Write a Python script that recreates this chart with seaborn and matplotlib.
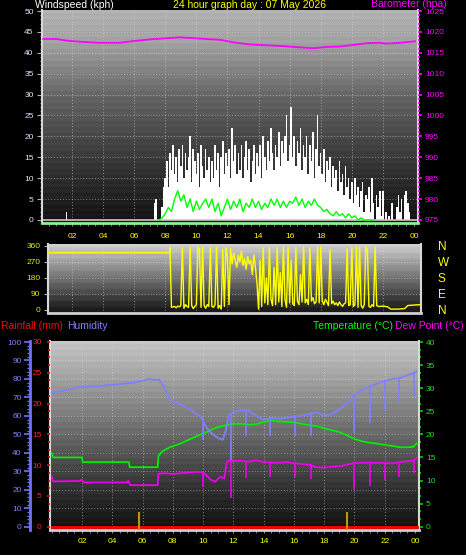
import numpy as np
import pandas as pd
import matplotlib
matplotlib.use("Agg")
import matplotlib.pyplot as plt
from matplotlib.ticker import MultipleLocator
import seaborn as sns

plt.rcParams['font.family'] = ['Liberation Sans', 'DejaVu Sans']

# ---------------- data ----------------
hour_ticks = [2, 4, 6, 8, 10, 12, 14, 16, 18, 20, 22, 24]
hour_labels = ['02', '04', '06', '08', '10', '12', '14', '16', '18', '20', '22', '00']

# wind gusts (kph), one sample every 0.1 h from 07.3 to 23.7, plus an early gust
gust_early_hours = [1.65]
gust_early_vals = [2]
gust_vals = [4, 5, 0, 0, 0, 3, 8,
             10, 14, 8, 16, 12, 18, 11, 15, 9, 17,
             13, 18, 10, 16, 12, 15, 20, 9, 17, 14,
             11, 16, 8, 18, 13, 10, 17, 12, 15, 9,
             14, 10, 18, 12, 16, 8, 15, 19, 11, 16,
             13, 17, 10, 22, 14, 18, 11, 16, 12, 18,
             10, 15, 19, 12, 17, 9, 14, 18, 11, 16,
             13, 18, 10, 20, 15, 12, 19, 14, 22, 16,
             12, 18, 15, 21, 13, 19, 16, 20, 25, 14,
             18, 27, 15, 20, 13, 19, 16, 22, 12, 18,
             15, 20, 11, 18, 14, 21, 10, 17, 25, 13,
             16, 11, 17, 9, 14, 12, 15, 8, 13, 10,
             12, 7, 14, 9, 11, 6, 13, 8, 10, 5,
             9, 4, 10, 6, 8, 3, 7, 9, 2, 6,
             5, 8, 2, 10, 4, 0, 6, 3, 7, 1,
             7, 0, 2, 0, 1, 0, 4, 0, 0, 3,
             6, 2, 5, 0, 6, 7, 4, 2]
gust_hours = list(np.round(np.linspace(7.3, 23.7, len(gust_vals)), 2))

# average wind speed (kph), one sample every 0.2 h from 07.6 to 21.4
avg_vals = [0, 0.5, 1.5, 3, 2, 5, 7, 4.5, 6, 3,
            5, 2, 4.5, 2.5, 4, 5, 3, 5, 2, 4,
            1, 3, 5, 2.5, 4.5, 3, 5, 2, 4, 3,
            5, 3, 4.5, 2.5, 4, 3, 5, 3.5, 5, 3,
            4.5, 3, 4.5, 4, 5.5, 3.5, 5, 3, 4.5, 3.5,
            5, 3.5, 3, 2, 2.5, 1.5, 1, 2, 1, 1.5,
            0.5, 1.5, 0.5, 1, 0, 0.5, 0, 0, 0, 0]
avg_hours = list(np.round(np.linspace(7.6, 21.4, len(avg_vals)), 2))

# barometer (hPa)
baro_hours = [0.15, 1.0, 1.66, 2.73, 3.8, 5.1, 5.3, 5.94, 7.0, 8.1, 8.95, 9.8, 10.67, 11.52,
              12.38, 13.45, 14.5, 15.6, 16.67, 17.5, 18.4, 19.24, 20.1, 20.96, 21.8, 22.2, 23.1, 24.07]
baro_vals = [1018.3, 1018.3, 1017.9, 1017.6, 1017.4, 1017.4, 1017.5, 1017.8, 1018.2, 1018.5,
             1018.7, 1018.5, 1018.3, 1018.1, 1017.5, 1017.0, 1016.8, 1016.6, 1016.3, 1016.1,
             1016.4, 1016.5, 1016.9, 1017.3, 1017.4, 1017.2, 1017.4, 1017.75]

# wind direction (degrees)
dir_head_hours = [0.5, 8.29]
dir_head_vals = [322, 322]
dir_core_vals = [350, 15, 18, 20, 12, 22, 18,
                 25, 350, 10, 30, 20, 15, 355, 25, 8, 20,
                 30, 355, 340, 15, 352, 25, 10, 30, 20, 350,
                 20, 15, 30, 355, 10, 25, 5, 340, 20, 350,
                 300, 30, 345, 260, 320, 280, 240, 310, 270, 330,
                 250, 290, 230, 300, 260, 280, 200, 310, 240, 150,
                 5, 280, 20, 350, 40, 180, 30, 350, 60, 25,
                 240, 30, 350, 45, 210, 20, 355, 60, 15, 350,
                 40, 280, 35, 25, 350, 50, 30, 200, 45, 355,
                 40, 60, 30, 350, 50, 70, 35, 45, 355, 40,
                 355, 50, 30, 60, 45, 25, 340, 35, 50, 30,
                 40, 25, 45, 30, 20, 35, 40, 345, 25, 30,
                 350, 20, 30, 355, 15, 350, 25, 10, 30, 355,
                 340, 20, 15, 30, 20, 355, 25, 20]
dir_core_hours = list(np.round(np.linspace(8.3, 21.7, len(dir_core_vals)), 2))
dir_tail_hours = [21.8, 22.0, 22.3, 22.5, 23.0, 23.4, 23.6, 24.0, 24.4]
dir_tail_vals = [20, 22, 18, 5, 5, 8, 25, 28, 30]
dir_hours = dir_head_hours + dir_core_hours + dir_tail_hours
dir_vals = dir_head_vals + dir_core_vals + dir_tail_vals

# humidity (%)
hum_hours = [0.0, 0.4, 0.9, 1.4, 1.7, 2.4, 3.0, 3.6, 4.2, 4.8, 5.4, 6.0, 6.4, 6.8, 7.1,
             7.4, 7.8, 8.2, 8.6, 9.0, 9.5, 9.9, 10.2, 10.5, 10.8, 11.0, 11.3, 11.5, 11.7, 12.0,
             12.5, 13.0, 13.5, 14.0, 14.5, 15.0, 15.5, 16.0, 16.5, 17.0, 17.5, 18.0, 18.5, 19.0,
             19.5, 20.0, 20.5, 21.0, 21.5, 22.0, 22.5, 23.0, 23.5, 24.1]
hum_vals = [72.5, 73, 74, 74.5, 75.5, 76, 76, 76.5, 77, 77.5, 78, 79, 80, 79.5, 79.5,
            76, 69, 67, 66, 64, 61.6, 59, 54, 51, 49, 48, 47, 52, 60.5, 62,
            63, 63, 60, 58, 59, 58.5, 59, 59.5, 60, 61, 62, 60, 61, 63.5,
            67, 71, 74, 76, 77.5, 79, 80, 80.5, 82, 84]

# temperature (°C)
temp_hours = [0.0, 0.1, 2.0, 2.05, 5.1, 5.15, 7.0, 7.05, 7.3, 7.8, 8.5, 9.3, 10.0, 10.9,
              11.5, 12.0, 12.5, 13.0, 13.5, 14.0, 14.5, 15.0, 15.5, 16.0, 16.5, 17.0, 17.5,
              18.0, 18.5, 19.0, 19.5, 20.0, 20.5, 21.0, 21.5, 22.0, 22.5, 23.0, 23.5, 23.9, 24.1]
temp_vals = [16.0, 15.0, 15.0, 14.0, 14.0, 12.9, 12.9, 15.3, 16.3, 17.2, 18.0, 19.2, 20.2, 21.5,
             22.0, 22.3, 22.3, 22.1, 22.2, 22.7, 23.0, 22.8, 22.7, 22.6, 22.3, 22.0, 21.8,
             21.3, 20.9, 20.5, 19.8, 19.0, 18.5, 18.2, 18.0, 17.7, 17.5, 17.2, 17.2, 17.3, 18.0]

# dew point (°C)
dew_hours = [0.0, 0.1, 1.9, 2.0, 2.1, 5.0, 5.05, 5.2, 7.0, 7.05, 7.5, 8.0, 8.5, 9.0, 9.5,
             10.0, 10.5, 10.8, 11.1, 11.4, 11.55, 11.7, 12.0, 12.5, 13.0, 13.5, 14.0, 14.5,
             15.0, 15.5, 16.0, 16.5, 17.0, 17.5, 18.0, 18.4, 18.8, 19.2, 19.6, 20.0, 20.5,
             21.0, 21.5, 22.0, 22.5, 23.0, 23.5, 23.9, 24.1]
dew_vals = [10.9, 9.8, 9.9, 10.2, 9.6, 9.6, 10.0, 9.0, 9.0, 11.5, 11.6, 11.4, 11.6, 11.7, 11.9,
            11.8, 10.2, 9.7, 10.8, 10.5, 13.9, 14.3, 14.2, 14.3, 14.1, 14.4, 14.0, 13.9,
            13.8, 14.0, 13.7, 13.6, 13.4, 12.9, 12.8, 13.0, 13.1, 13.2, 13.5, 13.8, 13.8,
            13.9, 13.8, 13.8, 13.7, 14.0, 14.2, 14.3, 14.9]

# short downward glitches in humidity / dew point
spike_hours = [10.0, 11.85, 12.85, 14.4, 16.1, 17.1, 20.0, 21.0, 22.0, 22.95, 23.9]
hum_spike_top = [59, 61, 63, 59, 59.5, 61, 71, 76, 79, 80.5, 83.5]
hum_spike_low = [47, 36, 49, 49, 49, 49, 51, 56, 63, 67.5, 71]
dew_spike_top = [11.8, 14.3, 14.2, 14.1, 14.0, 13.6, 13.8, 13.9, 13.8, 13.8, 14.2]
dew_spike_low = [8.6, 6.3, 10.6, 10.8, 10.8, 10.4, 8.2, 8.9, 10.1, 10.8, 11.7]

# rainfall (mm) and rain-rate markers
rain_hours = [0.0, 24.2]
rain_vals = [0.0, 0.0]
rate_hours = [5.77, 19.5]
rate_vals = [2.4, 2.4]

# ---------------- figure ----------------
W, H = 466, 555
fig = plt.figure(figsize=(W / 100, H / 100), dpi=100, facecolor='black')


def px_rect(x0, y0, x1, y1):
    return [x0 / W, 1 - y1 / H, (x1 - x0) / W, (y1 - y0) / H]


def backdrop(ax, stops, levels, w, h):
    rows = np.interp(np.linspace(0, 1, h), stops, levels)
    img = np.repeat(rows[:, None], w, axis=1)
    ii, jj = np.indices(img.shape)
    pattern = ((ii // 3) % 2 == 0) & ((ii + jj) % 2 == 0)
    img = np.clip(img + pattern * 9.0, 0, 255) / 255.0
    ax.imshow(img, cmap='gray', vmin=0, vmax=1, extent=[0, 1, 0, 1],
              transform=ax.transAxes, aspect='auto', interpolation='nearest', zorder=0)


def dotted_grid(ax, xs, ys):
    for x in xs:
        ax.axvline(x, color='#d8d8d8', lw=0.7, ls=(0, (1, 2)), alpha=0.55, zorder=0.5)
    for y in ys:
        ax.axhline(y, color='#d8d8d8', lw=0.7, ls=(0, (1, 2)), alpha=0.55, zorder=0.5)


def frame(ax, left=True, right=True, bottom='#d0d0d0'):
    for s in ax.spines.values():
        s.set_visible(False)
    if left:
        ax.spines['left'].set_visible(True)
        ax.spines['left'].set_color('#d8d8d8')
        ax.spines['left'].set_linewidth(1.5)
    if right:
        ax.spines['right'].set_visible(True)
        ax.spines['right'].set_color('#d8d8d8')
        ax.spines['right'].set_linewidth(1.5)
    ax.spines['bottom'].set_visible(True)
    ax.spines['bottom'].set_color(bottom)
    ax.spines['bottom'].set_linewidth(2)


LBL = 6
# ---------- panel 1 : wind speed + barometer ----------
ax1 = fig.add_axes(px_rect(42, 10, 418, 223))
backdrop(ax1, [0, .15, .42, .7, .95, 1], [175, 160, 95, 55, 22, 18], 376, 213)
ax1.bar(gust_early_hours + gust_hours, gust_early_vals + gust_vals, width=0.1,
        color='#ffffff', linewidth=0, zorder=2)
ax1.axhline(0, color='#c8c8c8', lw=1.2, zorder=2.5)
sns.lineplot(x=avg_hours, y=avg_vals, ax=ax1, color='#00ff00', lw=1.0,
             estimator=None, sort=False, zorder=3)
ax1.set_xlim(0.07, 24.26)
ax1.set_ylim(-0.72, 50.24)
dotted_grid(ax1, hour_ticks[:-1], range(5, 50, 5))
ax1.set_xticks(hour_ticks)
ax1.set_xticklabels(hour_labels)
ax1.xaxis.set_minor_locator(MultipleLocator(0.5))
ax1.tick_params(axis='x', which='major', length=2, color='#909090', labelcolor='#ffff00',
                labelsize=LBL, pad=5)
ax1.tick_params(axis='x', which='minor', length=2, color='#909090')
ax1.yaxis.set_major_locator(MultipleLocator(5))
ax1.yaxis.set_minor_locator(MultipleLocator(1))
ax1.tick_params(axis='y', which='major', length=3.5, color='#b0b0b0', labelcolor='#dde6ff',
                labelsize=LBL, pad=2.5)
ax1.tick_params(axis='y', which='minor', length=1.8, color='#b0b0b0')
frame(ax1, bottom='#90ee90')
ax1.set_xlabel('')
ax1.set_ylabel('')

ax1b = ax1.twinx()
sns.lineplot(x=baro_hours, y=baro_vals, ax=ax1b, color='#ff00ff', lw=1.3,
             estimator=None, sort=False)
ax1b.set_ylim(975 - 0.72, 1025.24)
ax1b.yaxis.set_major_locator(MultipleLocator(5))
ax1b.yaxis.set_minor_locator(MultipleLocator(1))
ax1b.tick_params(axis='y', which='major', length=3, width=1.2, color='#ff00ff',
                 labelcolor='#ff00ff', labelsize=LBL, pad=2)
ax1b.tick_params(axis='y', which='minor', length=1.5, width=1.2, color='#ff00ff')
for s in ax1b.spines.values():
    s.set_visible(False)
ax1b.set_ylabel('')

# ---------- panel 2 : wind direction ----------
ax2 = fig.add_axes(px_rect(48, 244, 421, 313))
backdrop(ax2, [0, .5, 1], [205, 110, 18], 373, 69)
sns.lineplot(x=dir_hours, y=dir_vals, ax=ax2, color='#ffff00', lw=1.0,
             estimator=None, sort=False, zorder=3)
ax2.set_xlim(0.457, 24.45)
ax2.set_ylim(-16.9, 371.2)
dotted_grid(ax2, hour_ticks[:-1], [90, 180, 270])
ax2.set_xticks([])
ax2.set_yticks([0, 90, 180, 270, 360])
ax2.tick_params(axis='y', length=3, color='#b0b0b0', labelcolor='#e8e800', labelsize=LBL, pad=2.5)
frame(ax2)
ax2.set_xlabel('')
ax2.set_ylabel('')

ax2b = ax2.twinx()
ax2b.set_ylim(-16.9, 371.2)
ax2b.set_yticks([0, 90, 180, 270, 360])
ax2b.set_yticklabels(['N', 'E', 'S', 'W', 'N'])
ax2b.tick_params(axis='y', length=0, labelcolor='#ffff00', labelsize=8.5, pad=12)
for s in ax2b.spines.values():
    s.set_visible(False)

# ---------- panel 3 : rain, humidity, temperature, dew point ----------
ax3 = fig.add_axes(px_rect(50, 341, 419, 530))
backdrop(ax3, [0, .3, .58, .85, 1], [195, 140, 85, 35, 15], 369, 189)
sns.lineplot(x=temp_hours, y=temp_vals, ax=ax3, color='#00ee00', lw=1.3,
             estimator=None, sort=False, zorder=3)
sns.lineplot(x=dew_hours, y=dew_vals, ax=ax3, color='#ee00ee', lw=1.3,
             estimator=None, sort=False, zorder=3)
ax3.vlines(spike_hours, dew_spike_low, dew_spike_top, color='#ee00ee', lw=1.2, zorder=3)
ax3.set_xlim(-0.11, 24.26)
ax3.set_ylim(-0.71, 40.22)
dotted_grid(ax3, hour_ticks[:-1], [h / 2.5 for h in range(10, 100, 10)])
ax3.set_xticks(hour_ticks)
ax3.set_xticklabels(hour_labels)
ax3.xaxis.set_minor_locator(MultipleLocator(0.5))
ax3.tick_params(axis='x', which='major', length=2, color='#909090', labelcolor='#ffff00',
                labelsize=LBL, pad=3.5)
ax3.tick_params(axis='x', which='minor', length=2, color='#909090')
frame(ax3)
ax3.set_xlabel('')
ax3.set_ylabel('')

axR = ax3.twinx()
axH = ax3.twinx()

# temperature ticks on the right
ax3.yaxis.set_ticks_position('right')
ax3.yaxis.set_major_locator(MultipleLocator(5))
ax3.yaxis.set_minor_locator(MultipleLocator(5 / 3))
ax3.tick_params(axis='y', which='major', length=3, width=1.2, color='#00cc00',
                labelcolor='#22dd22', labelsize=LBL, pad=2)
ax3.tick_params(axis='y', which='minor', length=1.5, width=1.2, color='#00cc00')

# rainfall
axR.plot(rain_hours, rain_vals, color='#ff0000', lw=2.0, zorder=3)
axR.vlines(rate_hours, -0.5, rate_vals, color='#b89a00', lw=1.5, zorder=3)
axR.set_ylim(-0.53, 30.16)
axR.yaxis.set_ticks_position('left')
axR.yaxis.set_major_locator(MultipleLocator(5))
axR.yaxis.set_minor_locator(MultipleLocator(1.25))
axR.tick_params(axis='y', which='major', length=2.5, width=1.2, color='#ff0000',
                labelcolor='#ff2020', labelsize=LBL, pad=3.5)
axR.tick_params(axis='y', which='minor', length=1.5, width=1.2, color='#cc0000')
for s in axR.spines.values():
    s.set_visible(False)

# humidity
sns.lineplot(x=hum_hours, y=hum_vals, ax=axH, color='#8080ff', lw=1.3,
             estimator=None, sort=False, zorder=3)
axH.vlines(spike_hours, hum_spike_low, hum_spike_top, color='#8080ff', lw=1.2, zorder=3)
axH.set_ylim(-1.78, 100.55)
axH.yaxis.set_ticks_position('left')
axH.yaxis.set_major_locator(MultipleLocator(10))
axH.yaxis.set_minor_locator(MultipleLocator(2))
axH.tick_params(axis='y', which='major', length=4, width=1.2, color='#7070ff',
                labelcolor='#8080ff', labelsize=LBL, pad=2)
axH.tick_params(axis='y', which='minor', length=2, width=1, color='#7070ff')
for s in axH.spines.values():
    s.set_visible(False)
axH.spines['left'].set_visible(True)
axH.spines['left'].set_position(('axes', (30 - 50) / 369))
axH.spines['left'].set_color('#7070ff')
axH.spines['left'].set_linewidth(2)
axH.set_ylabel('')

# ---------- titles ----------
TS = 7.5
fig.text(35 / W, 1 - 5 / H, 'Windspeed (kph)', color='white', fontsize=TS, va='center', ha='left')
fig.text(250 / W, 1 - 5 / H, '24 hour graph day : 07 May 2026', color='#ffff00', fontsize=TS,
         va='center', ha='center')
fig.text(447 / W, 1 - 4 / H, 'Barometer (hpa)', color='#ff00ff', fontsize=TS, va='center', ha='right')
fig.text(1 / W, 1 - 326 / H, 'Rainfall (mm)', color='#ff0000', fontsize=TS, va='center', ha='left')
fig.text(67 / W, 1 - 326 / H, 'Humidity', color='#8080ff', fontsize=TS, va='center', ha='left')
fig.text(393 / W, 1 - 326 / H, 'Temperature (°C)', color='#00ff00', fontsize=TS, va='center', ha='right')
fig.text(464 / W, 1 - 326 / H, 'Dew Point (°C)', color='#ff00ff', fontsize=TS, va='center', ha='right')

fig.savefig('out.png', dpi=100, facecolor='black')
